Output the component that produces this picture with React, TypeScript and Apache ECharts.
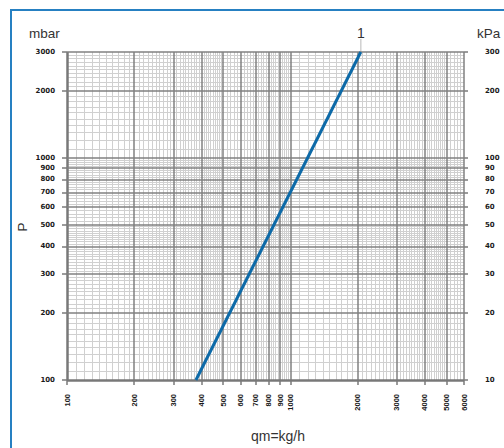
import React, { useEffect, useRef } from 'react';
import * as echarts from 'echarts';

// Tick values (log axes)
const xTicks = [100, 200, 300, 400, 500, 600, 700, 800, 900, 1000, 2000, 3000, 4000, 5000, 6000];
const yTicks = [100, 200, 300, 400, 500, 600, 700, 800, 900, 1000, 2000, 3000];
const kpaTicks = [10, 20, 30, 40, 50, 60, 70, 80, 90, 100, 200, 300];

// Curve "1": flow (kg/h) vs pressure drop (mbar)
const curveName = '1';
const flow = [378, 2070];
const pressure = [100, 3000];

// Minor grid subdivisions of log paper: [from, to, step] within a decade
const subdivisions: [number, number, number][] = [
  [1, 2, 0.1],
  [2, 5, 0.1],
  [5, 10, 0.2],
];

function minorValues(start: number, max: number): number[] {
  const out: number[] = [];
  for (let dec = start; dec < max; dec *= 10) {
    for (const [a, b, s] of subdivisions) {
      const n = Math.round((b - a) / s);
      for (let i = 1; i < n; i++) {
        const m = a + i * s;
        if (Math.abs(m - Math.round(m)) < 1e-6) continue;
        const v = Math.round(m * dec * 1000) / 1000;
        if (v < max) out.push(v);
      }
    }
  }
  return out;
}

export default function App() {
  const ref = useRef<HTMLDivElement>(null);
  useEffect(() => {
    if (!ref.current) return;
    const chart = echarts.init(ref.current, undefined, { renderer: 'svg' });
    const minorX = minorValues(xTicks[0], xTicks[xTicks.length - 1]);
    const minorY = minorValues(yTicks[0], yTicks[yTicks.length - 1]);
    const majorStyle = { color: '#808080', width: 1.5, type: 'solid' as const };
    const axisStyle = { color: '#787878', width: 2.5, type: 'solid' as const };
    const majorData: any[] = [
      ...xTicks.map((v, i) => ({ xAxis: v, lineStyle: i === 0 ? axisStyle : majorStyle })),
      ...yTicks.map((v, i) => ({ yAxis: v, lineStyle: i === 0 ? axisStyle : majorStyle })),
    ];
    const minorData: any[] = [
      ...minorX.map((v) => ({ xAxis: v })),
      ...minorY.map((v) => ({ yAxis: v })),
    ];
    const tickFont = {
      fontFamily: 'DejaVu Sans',
      fontWeight: 'bold' as const,
      fontSize: 7,
      color: '#1a1a1a',
    };
    const tickStyle = { show: true, length: 5, lineStyle: { color: '#7a7a7a', width: 1.5 } };
    const endPoint = [flow[flow.length - 1], pressure[pressure.length - 1]];
    const textStyle = { fontSize: 13.5, fontFamily: 'Liberation Sans', fill: '#333' };
    const graphics: any[] = [
      {
        id: 'border',
        type: 'rect',
        shape: { x: 11, y: 10, width: 600, height: 600 },
        style: { fill: 'none', stroke: '#2680c2', lineWidth: 2 },
        silent: true,
      },
      { id: 'mbar', type: 'text', x: 29, y: 33, style: { ...textStyle, text: 'mbar', verticalAlign: 'middle' } },
      { id: 'kpa', type: 'text', x: 477, y: 33, style: { ...textStyle, text: 'kPa', verticalAlign: 'middle' } },
      {
        id: 'p',
        type: 'text',
        x: 22,
        y: 227,
        rotation: Math.PI / 2,
        style: { ...textStyle, text: 'P', align: 'center', verticalAlign: 'middle' },
      },
      {
        id: 'qm',
        type: 'text',
        x: 278,
        y: 436,
        style: { ...textStyle, fontSize: 14, text: 'qm=kg/h', align: 'center', verticalAlign: 'middle' },
      },
    ];
    chart.setOption({
      animation: false,
      grid: { left: 67, right: 40, top: 52, bottom: 68 },
      xAxis: {
        type: 'log',
        logBase: 10,
        min: 100,
        max: 6000,
        axisLine: { show: false },
        splitLine: { show: false },
        axisTick: { ...tickStyle, customValues: xTicks },
        axisLabel: {
          ...tickFont,
          fontFamily: 'Liberation Sans',
          fontSize: 7.5,
          customValues: xTicks,
          rotate: 90,
          margin: 14,
          formatter: (v: number) => String(Math.round(v)),
        },
      },
      yAxis: [
        {
          type: 'log',
          logBase: 10,
          min: 100,
          max: 3000,
          position: 'left',
          axisLine: { show: false },
          splitLine: { show: false },
          axisTick: { ...tickStyle, customValues: yTicks },
          axisLabel: {
            ...tickFont,
            customValues: yTicks,
            margin: 12,
            formatter: (v: number) => String(Math.round(v)),
          },
        },
        {
          type: 'log',
          logBase: 10,
          min: 10,
          max: 300,
          position: 'right',
          axisLine: { show: false },
          splitLine: { show: false },
          axisTick: { ...tickStyle, length: 4, customValues: kpaTicks },
          axisLabel: {
            ...tickFont,
            customValues: kpaTicks,
            margin: 21,
            formatter: (v: number) => String(Math.round(v)),
          },
        },
      ],
      series: [
        {
          type: 'line',
          data: [],
          silent: true,
          markLine: {
            silent: true,
            z: 1,
            symbol: ['none', 'none'],
            label: { show: false },
            emphasis: { disabled: true },
            lineStyle: { color: '#d0d0d0', width: 1, type: 'solid' },
            data: minorData,
          },
        },
        {
          type: 'line',
          data: [],
          silent: true,
          markLine: {
            silent: true,
            z: 2,
            symbol: ['none', 'none'],
            label: { show: false },
            emphasis: { disabled: true },
            data: majorData,
          },
        },
        {
          type: 'line',
          name: curveName,
          z: 10,
          showSymbol: false,
          symbol: 'none',
          lineStyle: { color: '#0d6aa8', width: 3 },
          data: flow.map((f, i) => [f, pressure[i]]),
          markPoint: {
            silent: true,
            symbol: 'circle',
            symbolSize: 1,
            itemStyle: { color: 'rgba(0,0,0,0)' },
            label: {
              show: true,
              position: 'top',
              distance: 12,
              formatter: curveName,
              fontSize: 14,
              fontFamily: 'Liberation Sans',
              color: '#333',
            },
            data: [{ coord: endPoint }],
          },
        },
      ],
      graphic: graphics,
    });
    const p = chart.convertToPixel({ xAxisIndex: 0, yAxisIndex: 0 }, endPoint) as number[];
    if (p && isFinite(p[0])) {
      chart.setOption({
        graphic: [
          ...graphics,
          {
            id: 'leader',
            type: 'line',
            silent: true,
            z: 0,
            shape: { x1: p[0], y1: p[1] - 13, x2: p[0], y2: p[1] },
            style: { stroke: '#d0d0d0', lineWidth: 1.5 },
          },
        ],
      });
    }
    return () => chart.dispose();
  }, []);
  return (
    <div
      ref={ref}
      style={{ position: 'fixed', left: 0, top: 0, width: 504, height: 448, background: '#fff' }}
    />
  );
}
